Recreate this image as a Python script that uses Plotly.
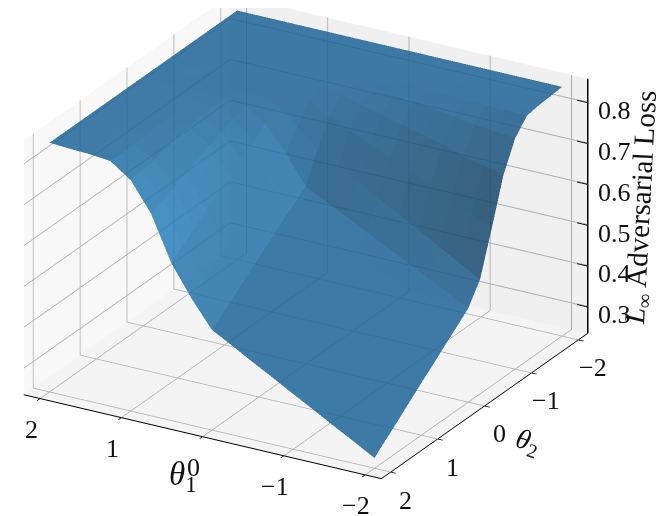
"""3D loss surface over two parameters"""
import numpy as np
import plotly.graph_objects as go

theta1 = [-2, -1.75, -1.5, -1.25, -1, -0.75, -0.5, -0.25, 0, 0.25, 0.5, 0.75, 1, 1.25, 1.5, 1.75, 2]
theta2 = [-2, -1.75, -1.5, -1.25, -1, -0.75, -0.5, -0.25, 0, 0.25, 0.5, 0.75, 1, 1.25, 1.5, 1.75, 2]

# loss, one row per theta2 value
loss = [
    [.845, .845, .845, .845, .845, .845, .845, .845, .845, .845, .845, .845, .845, .845, .845, .845, .845],
    [.842, .843, .843, .844, .844, .844, .844, .844, .844, .845, .845, .845, .845, .845, .845, .845, .845],
    [.840, .841, .841, .842, .842, .842, .843, .843, .843, .844, .845, .845, .845, .845, .845, .845, .845],
    [.835, .836, .837, .838, .839, .840, .841, .842, .842, .843, .844, .844, .845, .845, .845, .845, .845],
    [.800, .805, .810, .818, .825, .830, .835, .838, .840, .842, .843, .844, .844, .845, .845, .845, .845],
    [.730, .742, .755, .770, .783, .795, .808, .820, .832, .838, .842, .843, .844, .844, .845, .845, .845],
    [.620, .643, .666, .689, .712, .733, .755, .778, .800, .825, .838, .842, .843, .844, .844, .845, .845],
    [.515, .543, .571, .600, .628, .656, .684, .712, .740, .785, .825, .838, .842, .843, .844, .845, .845],
    [.465, .491, .516, .542, .568, .593, .619, .644, .670, .740, .800, .832, .840, .842, .843, .844, .845],
    [.439, .465, .491, .517, .543, .569, .595, .621, .647, .715, .778, .820, .838, .842, .843, .844, .845],
    [.414, .440, .467, .493, .519, .545, .572, .598, .624, .691, .755, .808, .835, .841, .843, .844, .845],
    [.388, .415, .441, .468, .494, .521, .547, .574, .600, .666, .733, .795, .830, .840, .842, .844, .845],
    [.363, .390, .416, .443, .470, .496, .523, .549, .576, .642, .712, .783, .825, .840, .842, .844, .845],
    [.337, .364, .391, .418, .445, .471, .498, .525, .552, .618, .689, .770, .818, .838, .842, .844, .845],
    [.311, .338, .365, .392, .420, .447, .474, .501, .528, .594, .666, .755, .810, .836, .841, .843, .845],
    [.286, .313, .341, .368, .395, .422, .450, .477, .504, .569, .643, .742, .805, .836, .841, .843, .845],
    [.260, .288, .315, .343, .370, .398, .425, .453, .480, .545, .620, .730, .800, .835, .840, .842, .845],
]

param_ticks = [-2, -1, 0, 1, 2]
param_tick_labels = ["\u22122", "\u22121", "0", "1", "2"]
loss_ticks = [0.3, 0.4, 0.5, 0.6, 0.7, 0.8]
loss_tick_labels = ["0.3", "0.4", "0.5", "0.6", "0.7", "0.8"]

PARAM_RANGE = [-2.2, 2.2]
LOSS_RANGE = [0.235, 0.858]
SERIF = "Liberation Serif"
TICK_FONT = dict(family=SERIF, size=26, color="#111111")


def axis_style(ticks, axis_range, pane):
    return dict(
        range=axis_range,
        tickvals=ticks,
        showticklabels=False,
        title=dict(text=""),
        showbackground=True,
        backgroundcolor=pane,
        gridcolor="#adadad",
        gridwidth=2,
        showline=True,
        linecolor="black",
        linewidth=2,
        ticks="outside",
        ticklen=6,
        tickcolor="black",
        tickwidth=2,
        zeroline=False,
        showspikes=False,
    )


def scene_label(text, x, y, z, xshift, yshift):
    return dict(text=text, x=x, y=y, z=z, xshift=xshift, yshift=yshift, showarrow=False, font=TICK_FONT)


def paper_label(text, x_px, y_px, size, angle=0):
    return dict(text=text, x=x_px / 664, y=1 - y_px / 516, xref="paper", yref="paper",
                xanchor="center", yanchor="middle", showarrow=False, textangle=angle,
                font=dict(family=SERIF, size=size, color="#111111"))


def shade_to_rgb(value):
    # plateau and walls, matplotlib's light direction gives these shade values
    r = np.interp(value, [0, 0.33, 0.55], [20, 30, 43])
    g = np.interp(value, [0, 0.33, 0.55], [60, 100, 131])
    b = np.interp(value, [0, 0.33, 0.55], [90, 151, 192])
    return f"rgb({r:.0f},{g:.0f},{b:.0f})"


# one flat coloured cell per grid square, the way plot_surface shades its polygons
grid_x, grid_y = np.meshgrid(theta1, theta2)
grid_z = np.array(loss)
rows, cols = grid_z.shape
tri_i, tri_j, tri_k, face_colors = [], [], [], []
for r in range(rows - 1):
    for c in range(cols - 1):
        a = r * cols + c
        b = a + 1
        d = a + cols
        e = d + 1
        dzdx = ((grid_z[r, c + 1] - grid_z[r, c]) + (grid_z[r + 1, c + 1] - grid_z[r + 1, c])) / 2 / 0.25
        dzdy = ((grid_z[r + 1, c] - grid_z[r, c]) + (grid_z[r + 1, c + 1] - grid_z[r, c + 1])) / 2 / 0.25
        shade = (0.667 * dzdx + 0.667 * dzdy + 0.333) / np.sqrt(dzdx ** 2 + dzdy ** 2 + 1)
        color = shade_to_rgb(shade)
        tri_i += [a, a]
        tri_j += [b, e]
        tri_k += [e, d]
        face_colors += [color, color]

fig = go.Figure(go.Mesh3d(
    x=grid_x.ravel(),
    y=grid_y.ravel(),
    z=grid_z.ravel(),
    i=tri_i,
    j=tri_j,
    k=tri_k,
    facecolor=face_colors,
    flatshading=True,
    opacity=0.85,
    lighting=dict(ambient=1, diffuse=0, specular=0, roughness=1, fresnel=0),
    hoverinfo="skip",
))

# plotly keeps the z ticks on the left edge, so the right edge axis is drawn here
edge = PARAM_RANGE[0]
fig.add_trace(go.Scatter3d(
    x=[edge, edge], y=[edge, edge], z=LOSS_RANGE,
    mode="lines", line=dict(color="black", width=3), hoverinfo="skip", showlegend=False,
))
for tick in loss_ticks:
    fig.add_trace(go.Scatter3d(
        x=[edge, edge + 0.13], y=[edge, edge], z=[tick, tick],
        mode="lines", line=dict(color="black", width=3), hoverinfo="skip", showlegend=False,
    ))

tick_labels = []
for tick, label in zip(param_ticks, param_tick_labels):
    tick_labels.append(scene_label(label, tick, PARAM_RANGE[1], LOSS_RANGE[0], -9, -31))
    tick_labels.append(scene_label(label, PARAM_RANGE[0], tick, LOSS_RANGE[0], 15, -28))
for tick, label in zip(loss_ticks, loss_tick_labels):
    tick_labels.append(scene_label(label, edge, edge, tick, 27, -8))

z_axis = axis_style(loss_ticks, LOSS_RANGE, "#f4f4f4")
z_axis.update(ticks="", showline=False)

fig.update_layout(
    width=664,
    height=516,
    margin=dict(l=0, r=0, t=0, b=0),
    paper_bgcolor="white",
    showlegend=False,
    scene=dict(
        domain=dict(x=[0, 1], y=[0, 1]),
        xaxis=axis_style(param_ticks, PARAM_RANGE, "#f8f8f8"),
        yaxis=axis_style(param_ticks, PARAM_RANGE, "#f0f0f0"),
        zaxis=z_axis,
        aspectmode="manual",
        aspectratio=dict(x=1.6, y=1.6, z=1.08),
        camera=dict(
            projection=dict(type="orthographic"),
            eye=dict(x=-1.485, y=2.307, z=1.096),
            center=dict(x=-0.115, y=-0.066, z=-0.124),
            up=dict(x=0, y=0, z=1),
        ),
        annotations=tick_labels,
    ),
    annotations=[
        paper_label("<i>θ</i><sub>1</sub>", 175, 468, 33),
        paper_label("<i>θ</i><sub>2</sub>", 520, 434, 28, 18),
        paper_label("<i>L</i><sub>∞</sub> Adversarial Loss", 634, 200, 29, -87),
    ],
)

fig.write_html("out.html")
